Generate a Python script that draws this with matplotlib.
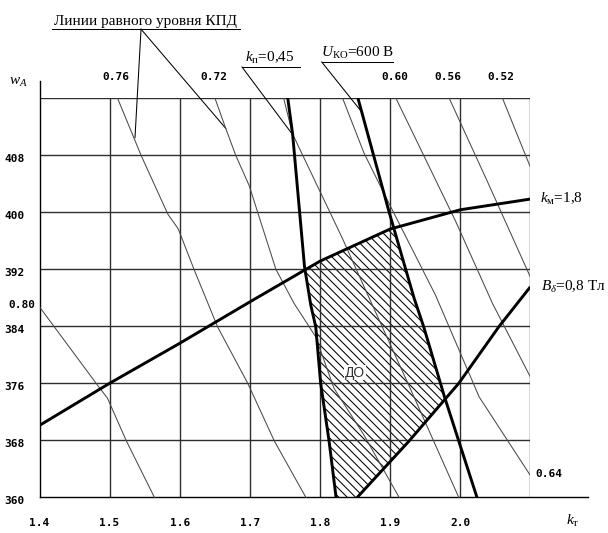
import matplotlib
matplotlib.use("Agg")
import matplotlib.pyplot as plt
import numpy as np
from matplotlib.patches import Polygon

plt.rcParams['font.family'] = ['Liberation Serif', 'DejaVu Serif']
plt.rcParams['mathtext.fontset'] = 'custom'
plt.rcParams['mathtext.rm'] = 'Liberation Serif'
plt.rcParams['mathtext.it'] = 'Liberation Serif:italic'
plt.rcParams['mathtext.bf'] = 'Liberation Serif:bold'
plt.rcParams['hatch.linewidth'] = 0.75

PX = 0.72  # points per pixel at dpi 100

# оси
k_ticks = [1.4, 1.5, 1.6, 1.7, 1.8, 1.9, 2.0]
k_tick_labels = ['1.4', '1.5', '1.6', '1.7', '1.8', '1.9', '2.0']
w_ticks = [360, 368, 376, 384, 392, 400, 408]
w_tick_labels = ['360', '368', '376', '384', '392', '400', '408']
k_grid = [1.5, 1.6, 1.7, 1.8, 1.9, 2.0, 2.1]
w_grid = [368, 376, 384, 392, 400, 408, 416]

# жирные линии
km_k = [1.4, 1.5, 1.6, 1.7, 1.8, 1.9, 2.0, 2.1]
km_w = [370.1, 376.0, 381.6, 387.4, 393.1, 397.6, 400.3, 401.8]

kp_k = [1.754, 1.761, 1.778, 1.787, 1.794, 1.801, 1.813, 1.823]
kp_w = [416, 410.9, 392.3, 386.9, 383.9, 376.0, 367.9, 360]

uko_k = [1.854, 1.898, 1.934, 1.948, 1.977, 1.998, 2.024]
uko_w = [416, 400.2, 388.0, 383.9, 374.3, 367.9, 360]

bd_k = [1.853, 1.927, 1.998, 2.055, 2.1]
bd_w = [360, 367.9, 376.0, 383.9, 389.5]

# линии равного уровня КПД
eff_levels = [0.80, 0.76, 0.72, 0.68, 0.64, 0.60, 0.56, 0.52]
eff_k = [
    [1.4, 1.483, 1.497, 1.524, 1.564],
    [1.511, 1.545, 1.583, 1.598, 1.621, 1.654, 1.697, 1.735, 1.780],
    [1.650, 1.666, 1.680, 1.699, 1.737, 1.763, 1.794, 1.820, 1.863, 1.913],
    [1.748, 1.761, 1.832, 1.863, 1.930, 1.998],
    [1.832, 1.863, 1.901, 1.965, 2.027, 2.1],
    [1.908, 1.993, 2.046, 2.1],
    [1.984, 2.040, 2.1],
    [2.060, 2.1],
]
eff_w = [
    [386.7, 375.7, 373.9, 367.9, 360.0],
    [416, 407.9, 399.7, 397.6, 391.8, 383.9, 376.0, 367.9, 360.0],
    [416, 411.6, 407.9, 403.7, 392.0, 387.2, 382.5, 375.3, 368.7, 360],
    [416, 410.9, 396.3, 389.5, 375.0, 360],
    [416, 408.2, 400.7, 388.3, 374.1, 363.1],
    [416, 398.8, 387.2, 376.9],
    [416, 404.0, 390.9],
    [416, 406.3],
]
eff_top = [0.76, 0.72, 0.60, 0.56, 0.52]


def k_of_w(ks, ws, w):
    ws = np.asarray(ws)[::-1]
    ks = np.asarray(ks)[::-1]
    return np.interp(w, ws, ks)


def cross(vk, vw, hk, hw):
    ww = np.linspace(360, 416, 11201)
    kk = k_of_w(vk, vw, ww)
    d = ww - np.interp(kk, hk, hw)
    i = np.where(np.diff(np.sign(d)) != 0)[0][0]
    return kk[i], ww[i]


fig = plt.figure(figsize=(6.08, 5.33), dpi=100)
ax = fig.add_axes([39.5 / 608, 35.5 / 533, 490.8 / 608, 399.8 / 533])
ax.set_xlim(1.4, 2.1)
ax.set_ylim(360, 416)
ax.axis('off')

# сетка
for k in k_grid:
    ax.plot([k, k], [360, 416], color='#2e2e2e', lw=1.0, zorder=2)
for w in w_grid:
    ax.plot([1.4, 2.1], [w, w], color='#2e2e2e', lw=1.0, zorder=2)
ax.plot([1.4, 1.4], [360, 418.4], color='black', lw=1.0, clip_on=False, zorder=2)
ax.plot([1.4, 2.182], [360, 360], color='black', lw=1.0, clip_on=False, zorder=2)

for k, lab in zip(k_ticks, k_tick_labels):
    ax.annotate(lab, (k, 360), xytext=(0, -25.5 * PX), textcoords='offset points',
                ha='center', va='center', family='DejaVu Sans Mono',
                weight='bold', fontsize=8)
for w, lab in zip(w_ticks, w_tick_labels):
    ax.annotate(lab, (1.4, w), xytext=(-14.5 * PX, -4 * PX), textcoords='offset points',
                ha='right', va='center', family='DejaVu Sans Mono',
                weight='bold', fontsize=8)

# КПД
for lvl, ks, ws in zip(eff_levels, eff_k, eff_w):
    ax.plot(ks, ws, color='#4a4a4a', lw=0.75, zorder=3)
    txt = f'{lvl:.2f}'
    kw = dict(textcoords='offset points', va='center', family='DejaVu Sans Mono',
              weight='bold', fontsize=8, annotation_clip=False)
    if lvl in eff_top:
        ax.annotate(txt, (ks[0], ws[0]), xytext=(-1 * PX, 20.7 * PX), ha='center', **kw)
    elif lvl == 0.80:
        ax.annotate(txt, (ks[0], ws[0]), xytext=(-4.5 * PX, 1.7 * PX), ha='right', **kw)
    elif lvl == 0.64:
        ax.annotate(txt, (ks[-1], ws[-1]), xytext=(5 * PX, 1 * PX), ha='left', **kw)

# область ДО
kA, wA = cross(kp_k, kp_w, km_k, km_w)
kB, wB = cross(uko_k, uko_w, km_k, km_w)
kC, wC = cross(uko_k, uko_w, bd_k, bd_w)
s1k = np.linspace(kA, kB, 200)
s1w = np.interp(s1k, km_k, km_w)
s2w = np.linspace(wB, wC, 200)
s2k = k_of_w(uko_k, uko_w, s2w)
s3k = np.linspace(kC, bd_k[0], 200)
s3w = np.interp(s3k, bd_k, bd_w)
s4w = np.linspace(360, wA, 200)
s4k = k_of_w(kp_k, kp_w, s4w)
poly_k = np.concatenate([s1k, s2k, s3k, s4k])
poly_w = np.concatenate([s1w, s2w, s3w, s4w])
ax.add_patch(Polygon(np.column_stack([poly_k, poly_w]), closed=True, fill=False,
                     edgecolor='black', lw=0, hatch='\\\\\\\\', zorder=1))
ax.text(1.850, 377.5, 'ДО', family='Liberation Sans', fontsize=10, color='#333333',
        ha='center', va='center', zorder=6,
        bbox=dict(facecolor='white', edgecolor='none', pad=0.5))

for ks, ws in [(km_k, km_w), (kp_k, kp_w), (uko_k, uko_w), (bd_k, bd_w)]:
    ax.plot(ks, ws, color='black', lw=2.1, zorder=5, solid_capstyle='butt')

# подписи
lk = dict(color='black', lw=0.75, clip_on=False)
ax.plot([1.4178, 1.6860], [425.6, 425.6], **lk)
ax.plot([1.5448, 1.5362], [425.6, 410.4], **lk)
ax.plot([1.5448, 1.6657], [425.6, 411.7], **lk)
ax.text(1.5505, 425.8, 'Линии равного уровня КПД', fontsize=11, ha='center', va='bottom')

ax.plot([1.6888, 1.7716], [420.3, 420.3], **lk)
ax.plot([1.6888, 1.7597], [420.3, 411.0], **lk)
ax.text(1.729, 420.5, r'$k_{\mathrm{п}}$=0,45', fontsize=11, ha='center', va='bottom')

ax.plot([1.8025, 1.9042], [421.0, 421.0], **lk)
ax.plot([1.8025, 1.8596], [421.0, 414.0], **lk)
ax.text(1.853, 421.2, r'$U_{\mathrm{КО}}$=600 В', fontsize=11, ha='center', va='bottom')

ax.annotate(r'$k_{\mathrm{м}}$=1,8', (km_k[-1], km_w[-1]), xytext=(10 * PX, 0),
            textcoords='offset points', fontsize=11, ha='left', va='center',
            annotation_clip=False)
ax.annotate(r'$B_{\delta}$=0,8 Тл', (bd_k[-1], bd_w[-1]), xytext=(11 * PX, 0),
            textcoords='offset points', fontsize=11, ha='left', va='center',
            annotation_clip=False)
fig.text(18 / 608, 1 - 82 / 533, r'$w_A$', fontsize=11, ha='center', va='center')
fig.text(573 / 608, 1 - 521 / 533, r'$k_{\mathrm{т}}$', fontsize=11, ha='center', va='center')

fig.savefig('out.png', dpi=100)
